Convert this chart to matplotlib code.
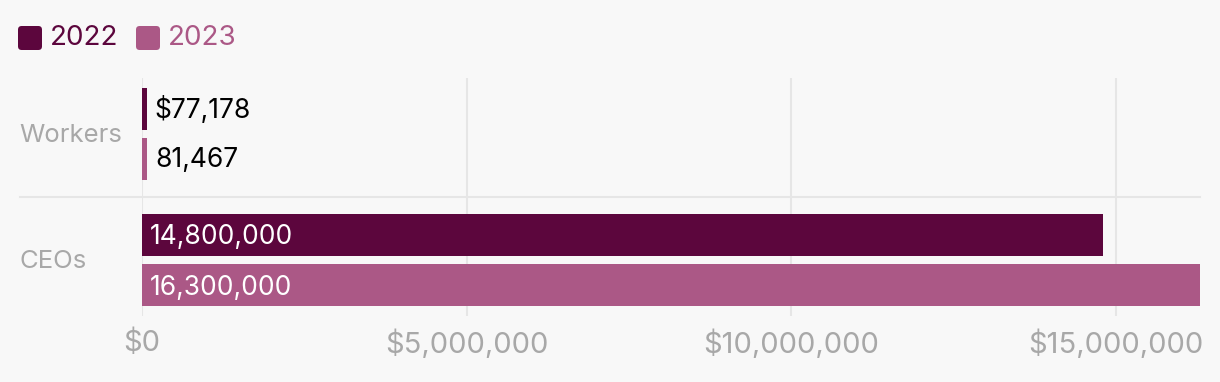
import matplotlib
matplotlib.use("Agg")
from matplotlib import pyplot as plt
from matplotlib.patches import FancyBboxPatch
import numpy as np

# data
groups = ["Workers", "CEOs"]
years = ["2022", "2023"]
pay_2022 = [77178, 14800000]
pay_2023 = [81467, 16300000]
bar_labels_2022 = ["$77,178", "14,800,000"]
bar_labels_2023 = ["81,467", "16,300,000"]
xticks = [0, 5000000, 10000000, 15000000]
xtick_labels = ["$0", "$5,000,000", "$10,000,000", "$15,000,000"]

c22 = "#5c063d"
c23 = "#ab5886"
bg = "#f8f8f8"
grey = "#a8a8a8"
gridc = "#e6e6e6"

plt.rcParams["font.family"] = ["Inter", "DejaVu Sans"]

W, H = 1220, 382
fig = plt.figure(figsize=(W / 100, H / 100), dpi=100, facecolor=bg)

# axes box in pixels: x 142..1200, y 78..316
ax = fig.add_axes([142 / W, 1 - 316 / H, (1200 - 142) / W, (316 - 78) / H])
ax.set_facecolor(bg)

y = np.arange(len(groups))
h = 0.333
off = 0.2
ax.barh(y - off, pay_2022, height=h, color=c22, zorder=3)
ax.barh(y + off, pay_2023, height=h, color=c23, zorder=3)

ax.set_xlim(0, 16300000)
ax.set_ylim(1.444, -0.444)

ax.set_xticks(xticks)
ax.set_xticklabels(xtick_labels, color=grey, fontsize=21)
ax.tick_params(axis="x", length=0, pad=10)
ax.set_yticks([])
for s in ax.spines.values():
    s.set_visible(False)
ax.grid(axis="x", color=gridc, linewidth=1.5, zorder=0)

# separator between groups, reaching out under the category labels
ax.plot([-0.1155, 1.0], [0.5, 0.5], transform=ax.get_yaxis_transform(),
        color=gridc, linewidth=1.5, clip_on=False, zorder=1)

# category labels
for i, g in enumerate(groups):
    ax.text(-0.1155, i + 0.01, g, transform=ax.get_yaxis_transform(), ha="left",
            va="center", color=grey, fontsize=18.5)

# value labels
big = 1000000
for i in range(len(groups)):
    for val, lab, dy in [(pay_2022[i], bar_labels_2022[i], -off),
                         (pay_2023[i], bar_labels_2023[i], off)]:
        if val > big:
            ax.text(120000, i + dy + 0.02, lab, ha="left", va="center",
                    color="white", fontsize=19, zorder=4)
        else:
            ax.text(val + 120000, i + dy + 0.01, lab, ha="left", va="center",
                    color="black", fontsize=19, zorder=4)

# legend with rounded squares
for x0, col, lab in [(18, c22, years[0]), (136, c23, years[1])]:
    fig.patches.append(FancyBboxPatch((x0 / W, 1 - 50 / H), 24 / W, 24 / H,
                                      boxstyle="round,pad=0,rounding_size=0.003",
                                      transform=fig.transFigure, facecolor=col,
                                      edgecolor="none", mutation_aspect=W / H))
    fig.text((x0 + 32) / W, 1 - 38 / H, lab, color=col, fontsize=20,
             ha="left", va="center")

fig.savefig("out.png", dpi=100, facecolor=bg)
